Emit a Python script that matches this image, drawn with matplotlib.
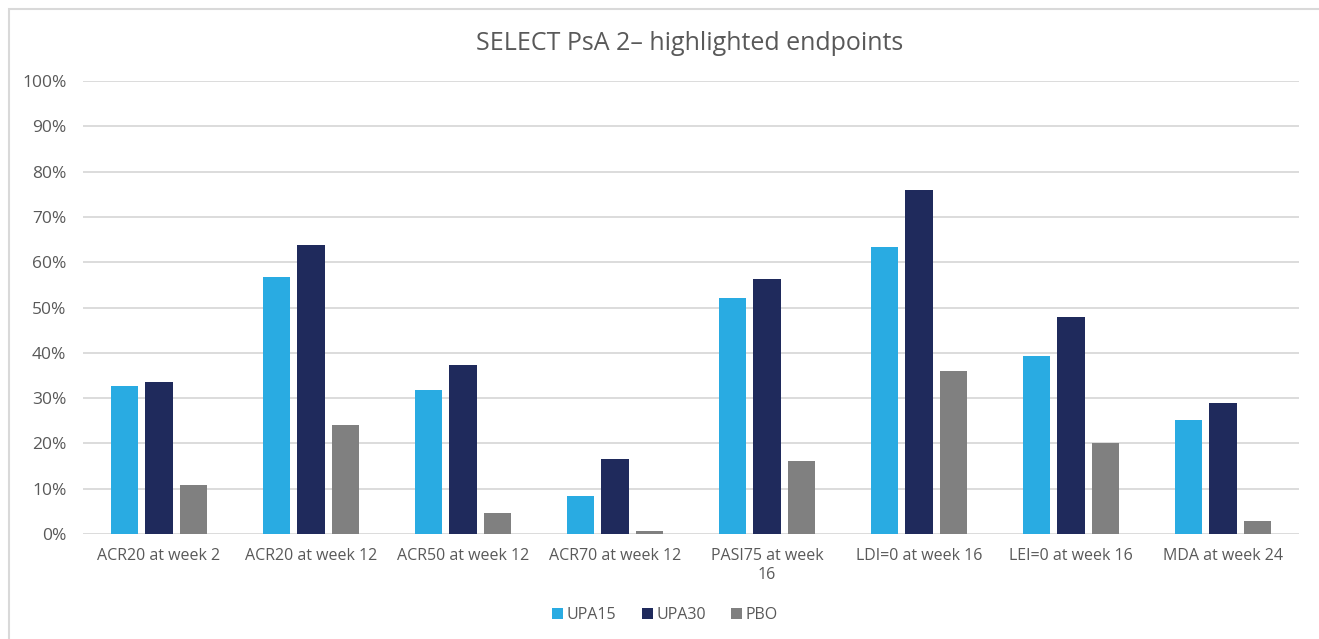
import matplotlib
matplotlib.use("Agg")
import matplotlib.pyplot as plt
import numpy as np
from matplotlib.patches import Rectangle

categories = ["ACR20 at week 2", "ACR20 at week 12", "ACR50 at week 12", "ACR70 at week 12",
              "PASI75 at week\n16", "LDI=0 at week 16", "LEI=0 at week 16", "MDA at week 24"]
upa15 = [32.6, 56.8, 31.7, 8.4, 52.2, 63.4, 39.2, 25.1]
upa30 = [33.5, 63.7, 37.4, 16.5, 56.4, 76.0, 47.8, 28.9]
pbo = [10.8, 24.0, 4.6, 0.7, 16.1, 35.9, 20.0, 2.9]
series_names = ["UPA15", "UPA30", "PBO"]
colors = ["#29ABE2", "#1F2A5C", "#808080"]
yticks = list(range(0, 101, 10))

plt.rcParams['font.family'] = ['Open Sans', 'DejaVu Sans']
txt = "#595959"

W, H = 1319, 639
fig = plt.figure(figsize=(W/100, H/100), dpi=100)
fig.patches.append(Rectangle((9/W, -0.1), 1.2, (1 - 9/H) + 0.1, transform=fig.transFigure,
                             fill=False, edgecolor="#D9D9D9", linewidth=1.5, zorder=0))
ax = fig.add_axes([83/W, (H-534)/H, (1299-83)/W, (534-81)/H])

x = np.arange(len(categories))
bw = 0.178
step = 0.225
for i, (vals, name, c) in enumerate(zip([upa15, upa30, pbo], series_names, colors)):
    ax.bar(x + (i-1)*step, vals, width=bw, color=c, label=name, zorder=3)

ax.set_xlim(-0.5, len(categories)-0.5)
ax.set_ylim(0, 100)
ax.set_yticks(yticks)
ax.set_yticklabels([f"{t}%" for t in yticks], color=txt, fontsize=12.5)
ax.set_xticks(x)
ax.set_xticklabels(categories, color=txt, fontsize=11.5, linespacing=1.3)
ax.tick_params(axis='both', length=0)
ax.tick_params(axis='y', pad=12)
ax.tick_params(axis='x', pad=10)
ax.grid(axis='y', color="#D9D9D9", linewidth=1.3, zorder=0)
for s in ax.spines.values():
    s.set_visible(False)

fig.text(690/W, 1 - 43/H, "SELECT PsA 2\u2013 highlighted endpoints", ha='center', va='center',
         fontsize=18, color=txt)
fig.legend(loc='center', bbox_to_anchor=(665/W, 1 - 615/H), ncol=3, frameon=False,
           fontsize=11.5, labelcolor=txt, handlelength=0.7, handleheight=0.7,
           handletextpad=0.2, columnspacing=1.6)

fig.savefig("out.png", dpi=100, facecolor="white")
